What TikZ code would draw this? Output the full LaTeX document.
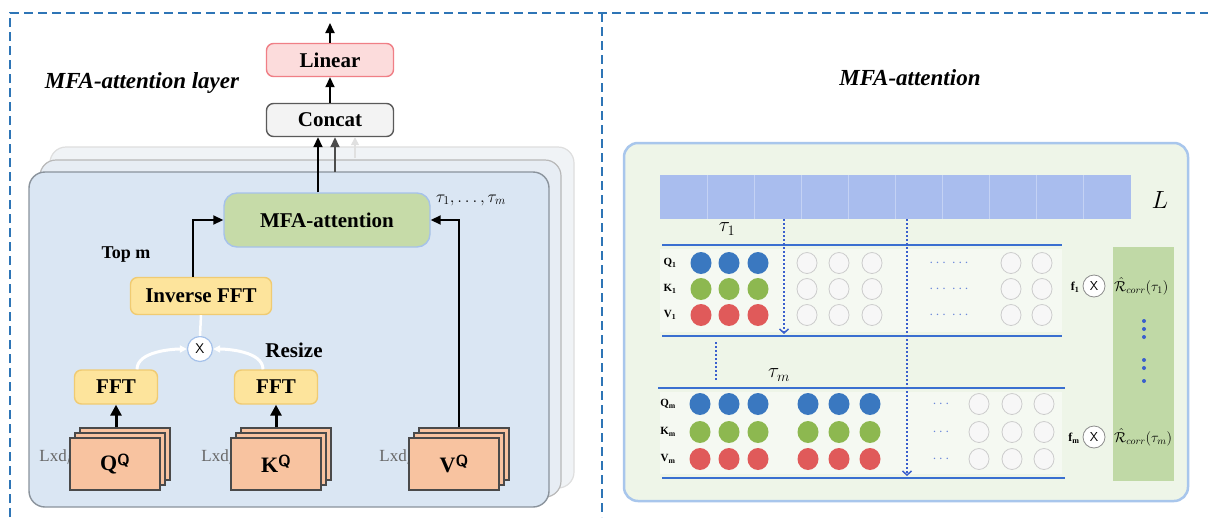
\documentclass[tikz,border=0pt]{standalone}
\usepackage{fontspec}
\setmainfont{Liberation Serif}
\usetikzlibrary{arrows.meta,calc}

\definecolor{dashblue}{HTML}{2E75B6}
\definecolor{panelfront}{HTML}{DAE6F3}
\definecolor{panelborder}{HTML}{8A939C}
\definecolor{panelmid}{HTML}{E7EDF4}
\definecolor{panelback}{HTML}{F0F3F6}
\definecolor{linearfill}{HTML}{FCDCDC}
\definecolor{linearborder}{HTML}{F07F86}
\definecolor{concatfill}{HTML}{F3F3F3}
\definecolor{concatborder}{HTML}{5A5A5A}
\definecolor{mfafill}{HTML}{C6DBA8}
\definecolor{mfaborder}{HTML}{A6C2EA}
\definecolor{fftfill}{HTML}{FDE49C}
\definecolor{fftborder}{HTML}{F0CB72}
\definecolor{cardfill}{HTML}{F8C3A0}
\definecolor{cardborder}{HTML}{4A4A4A}
\definecolor{rpanelfill}{HTML}{EEF5E8}
\definecolor{rpanelborder}{HTML}{A8C6EC}
\definecolor{barfill}{HTML}{A9BDEE}
\definecolor{barline}{HTML}{C4D2F4}
\definecolor{colfill}{HTML}{C0D9A6}
\definecolor{lineblue}{HTML}{3A6FD0}
\definecolor{dotblue}{HTML}{3A5FCD}
\definecolor{qblue}{HTML}{3A78C0}
\definecolor{kgreen}{HTML}{8DB850}
\definecolor{vred}{HTML}{E05A5A}

\tikzset{
  dashframe/.style={draw=dashblue, line width=2.2pt, dash pattern=on 9pt off 5pt},
  blockbox/.style={rounded corners=7pt, line width=1.4pt, inner sep=0pt,
    font=\bfseries\fontsize{21}{24}\selectfont},
  linearbox/.style={blockbox, fill=linearfill, draw=linearborder, minimum width=127pt, minimum height=33pt},
  concatbox/.style={blockbox, fill=concatfill, draw=concatborder, minimum width=127pt, minimum height=33pt},
  mfabox/.style={blockbox, rounded corners=13pt, fill=mfafill, draw=mfaborder, minimum width=206pt, minimum height=54pt},
  fftbox/.style={blockbox, fill=fftfill, draw=fftborder},
  card/.style={draw=cardborder, fill=cardfill, line width=1.2pt, minimum width=90pt, minimum height=52pt, inner sep=0pt},
  arr/.style={-{Triangle[length=10pt,width=9pt]}, line width=1.8pt, black},
  fatarr/.style={-{Triangle[length=11pt,width=11pt]}, line width=3pt, black},
  softarr/.style={-{Triangle[length=7pt,width=7pt]}, line width=3pt, white},
  plain/.style={font=\bfseries\fontsize{20}{24}\selectfont, inner sep=0pt},
  dimlabel/.style={text=black!60, font=\fontsize{17}{20}\selectfont, inner sep=0pt, anchor=east},
  multnode/.style={circle, draw, fill=white, minimum size=25pt, inner sep=0pt, font=\sffamily\fontsize{14}{14}\selectfont},
  rowlabel/.style={font=\bfseries\fontsize{11}{12}\selectfont, inner sep=0pt},
  sepline/.style={draw=lineblue, line width=1.8pt},
  dotline/.style={draw=dotblue, line width=1.5pt, dash pattern=on 2pt off 2pt},
  dotarr/.style={dotline, -{Straight Barb[length=4pt,width=9pt]}},
  gapdots/.style={text=dotblue!75, font=\bfseries\fontsize{14}{14}\selectfont, inner sep=0pt},
  weightmult/.style={multnode, draw=black!45, line width=0.8pt, minimum size=22pt, font=\sffamily\fontsize{13}{13}\selectfont},
}

% a stack of three cards; the front one carries the label
\newcommand{\cardstack}[3]{%
  \node[card] (#1back) at (#2+10, 454) {};
  \node[card] (#1mid) at (#2+5, 459) {};
  \node[card, font=\bfseries\fontsize{22}{24}\selectfont] (#1) at (#2, 464) {#3};
}
\newcommand{\supQ}{\raisebox{0.55ex}{\sffamily\fontsize{16}{16}\selectfont Q}}

\begin{document}
\begin{tikzpicture}[x=1pt, y=-1pt]
\useasboundingbox (0,0) rectangle (1208,517);
\fill[white] (0,0) rectangle (1208,517);

% ---------- outer dashed frame ----------
\draw[dashframe] (10,517) -- (10,13) -- (1208,13);
\draw[dashframe] (602,13) -- (602,517);

% ---------- left: MFA-attention layer ----------
\node[font=\bfseries\itshape\fontsize{23}{26}\selectfont, inner sep=0pt] (ltitle) at (142,83) {MFA-attention layer};

% stacked heads
\draw[rounded corners=16pt, fill=panelback, draw=black!13, line width=1.2pt] (50,147) rectangle (574,488);
\draw[rounded corners=16pt, fill=panelmid, draw=black!28, line width=1.2pt] (40,160) rectangle (561,497);
\draw[rounded corners=16pt, fill=panelfront, draw=panelborder, line width=1.4pt] (29,172) rectangle (549,507);

\node[linearbox] (linear) at (330,60) {Linear};
\node[concatbox] (concat) at (330,120) {Concat};
\coordinate (out) at (330,23);
\draw[arr] (linear.north) -- (out);
\draw[arr] (concat.north) -- (linear.south);

\node[mfabox] (mfa) at (327,220) {MFA-attention};
\node[inner sep=0pt, font=\fontsize{18}{20}\selectfont] (taus) at (471,200) {$\tau_1,\ldots,\tau_m$};

% outputs of the heads into Concat
\draw[arr] (mfa.north -| 318,0) -- (concat.south -| 318,0);
\coordinate (head2) at (335,172);
\draw[arr, black!70] (head2) -- (concat.south -| head2);
\coordinate (head3) at (355,158);
\draw[-{Triangle[length=8pt,width=8pt]}, line width=1.4pt, black!12] (head3) -- (concat.south -| head3);

\node[fftbox, minimum width=141pt, minimum height=37pt] (ifft) at (201,296) {Inverse FFT};
\node[plain, font=\bfseries\fontsize{18}{20}\selectfont] (topm) at (126,255) {Top m};
\draw[arr] ($(ifft.north)+(-8,0)$) |- (mfa.west);

\node[multnode, draw=mfaborder, line width=1.2pt] (mult) at (200,349) {X};
\draw[white, line width=2.5pt] (mult.north) -- (ifft.south);

\node[fftbox, minimum width=83pt, minimum height=34pt] (fftq) at (116,387) {FFT};
\node[fftbox, minimum width=83pt, minimum height=34pt] (fftk) at (276,387) {FFT};
\node[plain, font=\bfseries\fontsize{21}{24}\selectfont] (resize) at (294,350) {Resize};

\draw[softarr] ($(fftq.north)+(21,0)$) .. controls +(0,-18) and +(-14,0) .. (mult.west);
\draw[softarr] ($(fftk.north)+(-13,0)$) .. controls +(0,-18) and +(14,0) .. (mult.east);

% Q, K, V inputs
\node[dimlabel] (lq) at (74,457) {Lxd$_k$};
\node[dimlabel] (lk) at (236,457) {Lxd$_k$};
\node[dimlabel] (lv) at (414,457) {Lxd$_k$};
\cardstack{qcard}{115}{Q\supQ}
\cardstack{kcard}{276}{K\supQ}
\cardstack{vcard}{454}{V\supQ}

\draw[fatarr] (fftq.south |- qcardback.north) -- (fftq.south);
\draw[fatarr] (fftk.south |- kcardback.north) -- (fftk.south);
\coordinate (vx) at (459,0);
\draw[arr] (vx |- vcardback.north) |- (mfa.east);

% ---------- right: MFA-attention ----------
\node[font=\bfseries\itshape\fontsize{23}{26}\selectfont, inner sep=0pt] (rtitle) at (910,78) {MFA-attention};

\draw[rounded corners=14pt, fill=rpanelfill, draw=rpanelborder, line width=2.5pt] (624,143) rectangle (1188,501);

% sequence of length L
\fill[barfill] (660,175) rectangle (1131,219);
\foreach \i in {1,...,9} \draw[barline, line width=1pt] (660+47.1*\i,175) -- (660+47.1*\i,219);
\node[inner sep=0pt, font=\fontsize{26}{28}\selectfont] (lab) at (1160,200) {$L$};
\coordinate (bar1) at (784,219);
\coordinate (bar2) at (907,219);

% correlation column
\fill[colfill] (1113,247) rectangle (1174,481);
\foreach \yy in {321,329,337,360,368,381} \fill[dotblue] (1144,\yy) circle (2pt);

% row backgrounds
\fill[white, opacity=0.45] (660,249) rectangle (1062,332);
\fill[white, opacity=0.45] (660,392) rectangle (1062,474);

% separator lines
\draw[sepline] (662,245) -- (1062,245);
\draw[sepline] (662,336) -- (1062,336);
\draw[sepline] (658,388) -- (1065,388);
\draw[sepline] (662,478) -- (1065,478);

\node[inner sep=0pt, font=\fontsize{22}{24}\selectfont] (tau1) at (727,229) {$\tau_1$};
\node[inner sep=0pt, font=\fontsize{22}{24}\selectfont] (taum) at (779,375) {$\tau_m$};

% first lag group
\node[rowlabel] (q1) at (670,263) {Q\textsubscript{1}};
\node[rowlabel] (k1) at (670,289) {K\textsubscript{1}};
\node[rowlabel] (v1) at (670,315) {V\textsubscript{1}};
\foreach \yy/\cc in {263/qblue,289/kgreen,315/vred}{
  \foreach \xx in {701,729,758} \fill[\cc] (\xx,\yy) ellipse (10.5pt and 11pt);
  \foreach \xx in {807,839,872,1011,1042} \draw[black!20, fill=black!3, line width=0.8pt] (\xx,\yy) ellipse (10pt and 10.5pt);
  \node[gapdots] at (949,\yy) {$\cdots\ \cdots$};
}

% last lag group
\node[rowlabel] (qm) at (668,404) {Q\textsubscript{m}};
\node[rowlabel] (km) at (668,432) {K\textsubscript{m}};
\node[rowlabel] (vm) at (668,459) {V\textsubscript{m}};
\foreach \yy/\cc in {404/qblue,432/kgreen,459/vred}{
  \foreach \xx in {700,729,758,808,839,870} \fill[\cc] (\xx,\yy) ellipse (10.5pt and 11pt);
  \foreach \xx in {979,1012,1044} \draw[black!20, fill=black!3, line width=0.8pt] (\xx,\yy) ellipse (10pt and 10.5pt);
  \node[gapdots] at (941,\yy) {$\cdots$};
}

% shifts
\coordinate (shift1) at (784,334);
\coordinate (shift2) at (907,476);
\draw[dotarr] (bar1) -- (shift1);
\draw[dotarr] (bar2) -- (shift2);
\coordinate (gapa) at (716,342);
\coordinate (gapb) at (716,381);
\draw[dotline] (gapa) -- (gapb);

% weights times correlations
\node[inner sep=0pt, font=\bfseries\fontsize{12}{14}\selectfont] (f1) at (1075,287) {f\textsubscript{1}};
\node[weightmult] (m1) at (1094,286) {X};
\node[inner sep=0pt, font=\fontsize{14}{16}\selectfont, anchor=west] (r1) at (1114,286) {$\hat{\mathcal{R}}_{corr}(\tau_1)$};
\node[inner sep=0pt, font=\bfseries\fontsize{12}{14}\selectfont] (fm) at (1074,438) {f\textsubscript{m}};
\node[weightmult] (mm) at (1094,437) {X};
\node[inner sep=0pt, font=\fontsize{14}{16}\selectfont, anchor=west] (rm) at (1114,437) {$\hat{\mathcal{R}}_{corr}(\tau_m)$};

\end{tikzpicture}
\end{document}
